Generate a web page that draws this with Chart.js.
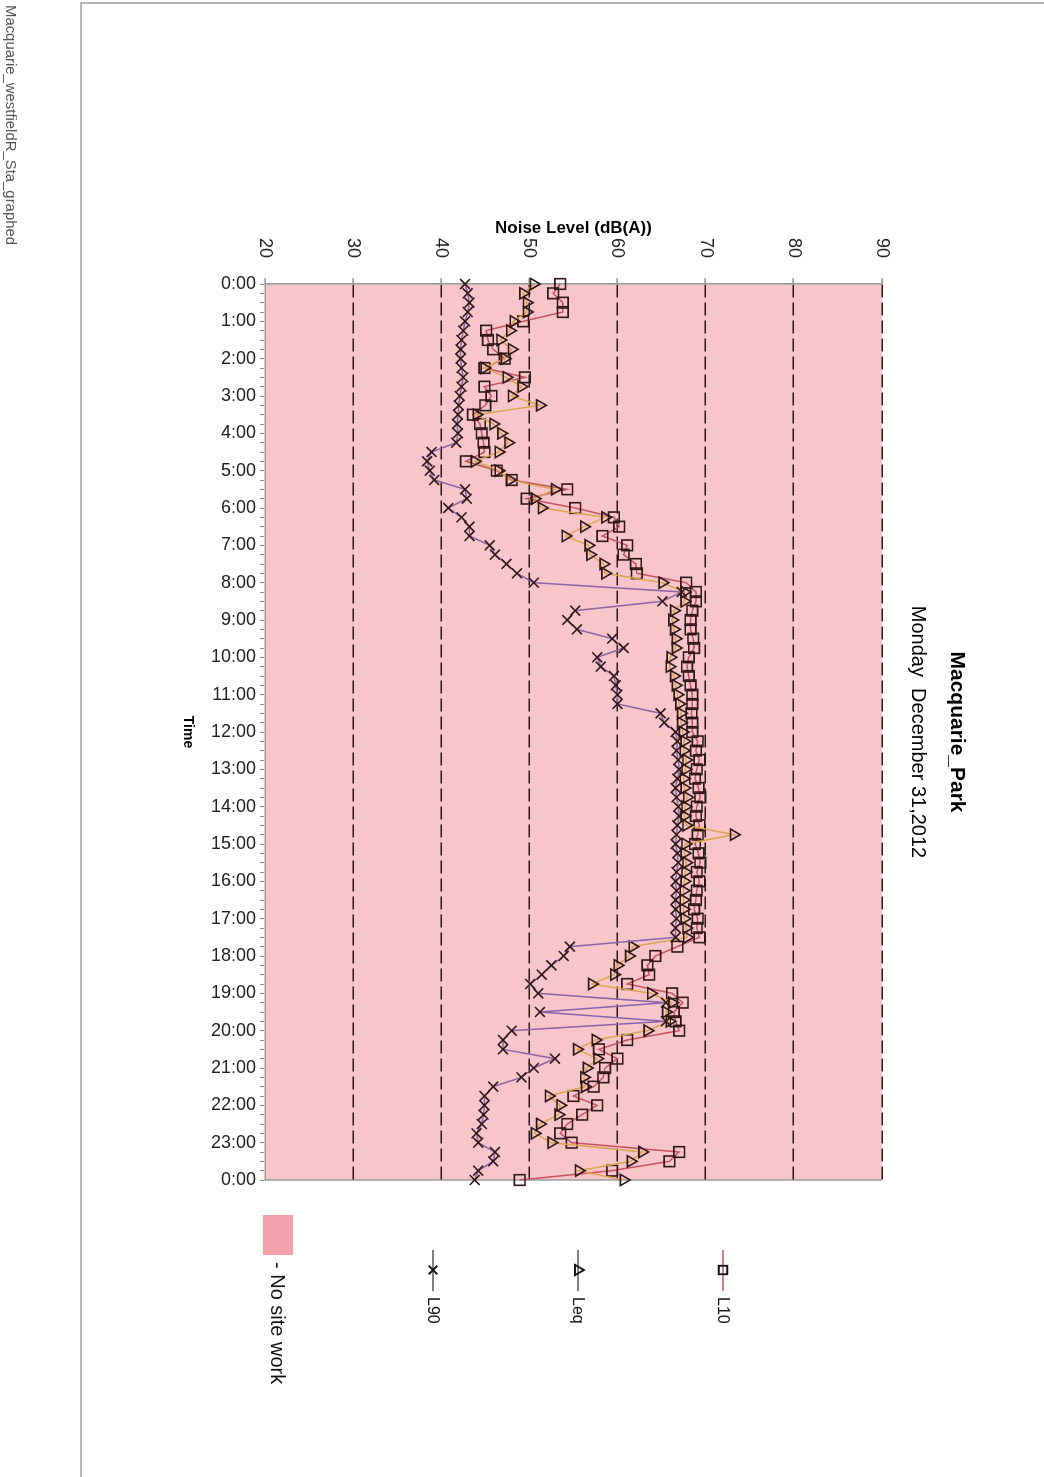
<!DOCTYPE html>
<html lang="en">
<head>
    <meta charset="UTF-8">
    <title>Macquarie_Park noise levels</title>
    <script src="https://cdn.jsdelivr.net/npm/chart.js@4.4.1/dist/chart.umd.min.js"></script>
    <style>
        html, body { margin: 0; padding: 0; background: #fff; overflow: hidden; }
        /* the printed page is landscape, turned a quarter clockwise */
        #page {
            position: absolute; left: 0; top: 0;
            width: 1477px; height: 1044px;
            transform-origin: 0 0;
            transform: translateX(1044px) rotate(90deg);
        }
    </style>
</head>
<body>
    <div id="page"><canvas id="noise" width="1477" height="1044"></canvas></div>

    <script>
        // 15 minute slots, midnight to midnight
        const times = [
            '0:00','0:15','0:30','0:45','1:00','1:15','1:30','1:45',
            '2:00','2:15','2:30','2:45','3:00','3:15','3:30','3:45',
            '4:00','4:15','4:30','4:45','5:00','5:15','5:30','5:45',
            '6:00','6:15','6:30','6:45','7:00','7:15','7:30','7:45',
            '8:00','8:15','8:30','8:45','9:00','9:15','9:30','9:45',
            '10:00','10:15','10:30','10:45','11:00','11:15','11:30','11:45',
            '12:00','12:15','12:30','12:45','13:00','13:15','13:30','13:45',
            '14:00','14:15','14:30','14:45','15:00','15:15','15:30','15:45',
            '16:00','16:15','16:30','16:45','17:00','17:15','17:30','17:45',
            '18:00','18:15','18:30','18:45','19:00','19:15','19:30','19:45',
            '20:00','20:15','20:30','20:45','21:00','21:15','21:30','21:45',
            '22:00','22:15','22:30','22:45','23:00','23:15','23:30','23:45',
            '0:00'
        ];

        const l10 = [
            53.5, 52.7, 53.8, 53.8, 49.3, 45.1, 45.3, 45.9,
            47.2, 44.9, 49.5, 44.9, 45.7, 45.0, 43.6, 44.4,
            44.6, 44.8, 44.9, 42.8, 46.3, 48.0, 54.3, 49.7,
            55.2, 59.6, 60.2, 58.3, 61.1, 60.7, 62.1, 62.2,
            67.8, 68.9, 68.9, 68.5, 68.3, 68.3, 68.6, 68.7,
            68.1, 67.9, 68.1, 68.3, 68.5, 68.5, 68.4, 68.5,
            68.5, 69.1, 68.9, 69.3, 69.0, 68.8, 69.2, 69.4,
            69.0, 68.9, 69.3, 69.1, 68.8, 69.2, 69.4, 69.0,
            69.3, 69.0, 68.9, 68.7, 69.1, 69.0, 69.3, 66.8,
            64.3, 63.4, 63.6, 61.1, 66.2, 67.4, 66.4, 66.6,
            67.0, 61.1, 57.9, 60.0, 58.6, 58.4, 57.3, 55.0,
            57.7, 56.0, 54.3, 53.5, 54.8, 67.0, 65.9, 59.4,
            48.9
        ];

        const leq = [
            50.5, 49.3, 49.7, 49.7, 48.2, 47.8, 46.7, 48.0,
            47.2, 44.9, 47.4, 49.1, 48.0, 51.2, 44.0, 45.9,
            46.8, 47.6, 46.5, 43.8, 46.5, 47.8, 52.9, 50.6,
            51.4, 58.6, 56.2, 54.1, 56.7, 56.9, 58.4, 58.6,
            65.1, 67.6, 67.6, 66.4, 66.2, 66.4, 66.6, 66.6,
            66.0, 65.9, 66.4, 66.6, 66.8, 67.0, 67.2, 67.2,
            67.4, 67.6, 67.5, 67.8, 67.7, 67.5, 67.6, 67.9,
            67.7, 67.6, 67.8, 73.2, 67.7, 67.6, 67.8, 67.7,
            67.6, 67.5, 67.5, 67.5, 67.6, 67.8, 67.9, 61.7,
            61.3, 60.0, 59.6, 57.1, 63.8, 66.2, 65.5, 65.9,
            63.4, 57.5, 55.4, 57.7, 56.5, 56.2, 56.3, 52.2,
            53.5, 53.3, 51.2, 50.6, 52.5, 62.8, 61.5, 55.6,
            60.7
        ];

        const l90 = [
            42.7, 43.0, 43.2, 43.0, 42.7, 42.5, 42.3, 42.2,
            42.2, 42.3, 42.5, 42.3, 42.1, 42.0, 41.9, 41.8,
            41.9, 41.7, 38.9, 38.4, 38.7, 39.2, 42.7, 42.9,
            40.8, 42.3, 43.2, 43.2, 45.5, 46.1, 47.4, 48.6,
            50.5, 67.3, 65.1, 55.2, 54.3, 55.4, 59.4, 60.7,
            57.7, 58.1, 59.6, 59.8, 60.0, 60.0, 64.9, 65.3,
            66.6, 66.8, 66.7, 66.9, 67.0, 66.8, 66.6, 66.7,
            66.9, 67.0, 66.8, 66.7, 66.6, 66.8, 66.9, 66.7,
            66.6, 66.7, 66.6, 66.6, 66.7, 66.6, 66.6, 54.6,
            53.9, 52.5, 51.4, 50.1, 51.0, 65.5, 51.2, 65.5,
            48.0, 47.0, 47.0, 52.9, 50.5, 49.1, 45.9, 44.9,
            44.9, 44.8, 44.6, 44.0, 44.2, 46.1, 45.9, 44.2,
            43.8
        ];

        // slot ranges (index into times) with no site work
        const noSiteWork = [[0, 96]];

        const noiseTicks = [20, 30, 40, 50, 60, 70, 80, 90];

        const markerInk = '#2e1717';
        const noWorkFill = '#f8c5ca';

        function drawMarker(ctx, style, x, y, r) {
            ctx.beginPath();
            if (style === 'rect') {
                const s = r * Math.SQRT1_2;
                ctx.rect(x - s, y - s, 2 * s, 2 * s);
            } else if (style === 'triangle') {
                ctx.moveTo(x, y - r);
                ctx.lineTo(x + r * 0.866, y + r * 0.5);
                ctx.lineTo(x - r * 0.866, y + r * 0.5);
                ctx.closePath();
            } else {
                const s = r * Math.SQRT1_2;
                ctx.moveTo(x - s, y - s); ctx.lineTo(x + s, y + s);
                ctx.moveTo(x + s, y - s); ctx.lineTo(x - s, y + s);
            }
            ctx.stroke();
        }

        const pagePlugin = {
            id: 'page',
            beforeDraw(chart) {
                const { ctx, chartArea: a, scales: { x } } = chart;
                ctx.save();
                // pink band for the no-work period
                ctx.fillStyle = noWorkFill;
                noSiteWork.forEach(([from, to]) => {
                    const x0 = x.getPixelForValue(from);
                    const x1 = x.getPixelForValue(to);
                    ctx.fillRect(x0, a.top, x1 - x0, a.bottom - a.top);
                });
                ctx.strokeStyle = '#9c9c9c';
                ctx.lineWidth = 1.5;
                ctx.beginPath();
                ctx.moveTo(a.right, a.top);
                ctx.lineTo(a.right, a.bottom);
                ctx.stroke();
                // page frame
                ctx.strokeStyle = '#a0a0a0';
                ctx.beginPath();
                ctx.moveTo(3, 0);
                ctx.lineTo(3, 963);
                ctx.lineTo(1477, 963);
                ctx.stroke();
                ctx.restore();
            },
            afterDraw(chart) {
                const { ctx } = chart;
                ctx.save();
                // legend
                const items = [
                    { label: 'L10', style: 'rect', line: '#c9505e', y: 321, r: 6 },
                    { label: 'Leq', style: 'triangle', line: '#555', y: 466, r: 6 },
                    { label: 'L90', style: 'crossRot', line: '#555', y: 611, r: 6 }
                ];
                items.forEach(it => {
                    ctx.strokeStyle = it.line;
                    ctx.lineWidth = 1.5;
                    ctx.beginPath();
                    ctx.moveTo(1250, it.y);
                    ctx.lineTo(1291, it.y);
                    ctx.stroke();
                    ctx.strokeStyle = '#111';
                    ctx.lineWidth = 1.8;
                    drawMarker(ctx, it.style, 1270, it.y, it.r);
                    ctx.fillStyle = '#111';
                    ctx.font = '16px "Liberation Sans", Arial, sans-serif';
                    ctx.textAlign = 'left';
                    ctx.textBaseline = 'middle';
                    ctx.fillText(it.label, 1297, it.y + 1);
                });
                ctx.fillStyle = '#f3a2ac';
                ctx.fillRect(1215, 751, 40, 30);
                ctx.fillStyle = '#111';
                ctx.font = '20px "Liberation Sans", Arial, sans-serif';
                ctx.fillText('- No site work', 1262, 767);
                // file name in the margin
                ctx.fillStyle = '#555';
                ctx.font = '15px "Liberation Sans", Arial, sans-serif';
                ctx.fillText('Macquarie_westfieldR_Sta_graphed', 5, 1034, 240);
                ctx.restore();
            }
        };

        Chart.defaults.font.family = '"Liberation Sans", Arial, sans-serif';
        Chart.defaults.color = '#222';

        new Chart(document.getElementById('noise'), {
            type: 'line',
            data: {
                labels: times,
                datasets: [
                    {
                        label: 'L90', data: l90,
                        borderColor: '#8a62a8', borderWidth: 1.5,
                        pointStyle: 'crossRot', pointRadius: 7,
                        pointBorderColor: markerInk, pointBorderWidth: 1.6,
                        pointBackgroundColor: 'rgba(0,0,0,0)', clip: false
                    },
                    {
                        label: 'Leq', data: leq,
                        borderColor: '#d9a54a', borderWidth: 1.5,
                        pointStyle: 'triangle', pointRadius: 6.5,
                        pointBorderColor: markerInk, pointBorderWidth: 1.6,
                        pointBackgroundColor: 'rgba(0,0,0,0)', clip: false
                    },
                    {
                        label: 'L10', data: l10,
                        borderColor: '#c9505e', borderWidth: 1.5,
                        pointStyle: 'rect', pointRadius: 7.5,
                        pointBorderColor: markerInk, pointBorderWidth: 1.6,
                        pointBackgroundColor: 'rgba(0,0,0,0)', clip: false
                    }
                ]
            },
            options: {
                responsive: false,
                animation: false,
                events: [],
                layout: { padding: { top: 60, left: 212, right: 297, bottom: 165 } },
                plugins: {
                    legend: { display: false },
                    tooltip: { enabled: false },
                    title: {
                        display: true, text: 'Macquarie_Park', fullSize: false,
                        color: '#000', font: { size: 21, weight: 'bold' },
                        padding: { top: 15, bottom: 6 }
                    },
                    subtitle: {
                        display: true, text: 'Monday  December 31,2012', fullSize: false,
                        color: '#000', font: { size: 20 },
                        padding: { top: 8, bottom: 24 }
                    }
                },
                scales: {
                    x: {
                        type: 'category',
                        offset: false,
                        grid: {
                            drawOnChartArea: false, drawTicks: true,
                            tickLength: 5, tickColor: '#8c8c8c', tickWidth: 1
                        },
                        border: { display: true, color: '#9c9c9c', width: 1.5 },
                        ticks: {
                            autoSkip: false, minRotation: 90, maxRotation: 90,
                            padding: 4, color: '#222', font: { size: 18 },
                            callback(v, i) { return times[i].endsWith(':00') ? times[i] : ''; }
                        },
                        title: {
                            display: true, text: 'Time', color: '#000',
                            font: { size: 14, weight: 'bold' },
                            padding: { top: 0, bottom: 14 }
                        },
                        afterFit(s) { s.height = 100; }
                    },
                    y: {
                        min: noiseTicks[0],
                        max: noiseTicks[noiseTicks.length - 1],
                        afterBuildTicks(s) { s.ticks = noiseTicks.map(v => ({ value: v })); },
                        ticks: { padding: 20, color: '#222', font: { size: 18 } },
                        grid: {
                            color: c => (c.tick && c.tick.value === noiseTicks[0]) ? 'rgba(0,0,0,0)' : '#2a1818',
                            lineWidth: 1.6,
                            drawTicks: true, tickLength: 6, tickColor: '#8fa08f'
                        },
                        border: { display: true, color: '#8fa08f', width: 1.5, dash: [13, 5] },
                        title: {
                            display: true, text: 'Noise Level (dB(A))', color: '#000',
                            font: { size: 17, weight: 'bold' },
                            padding: { top: 6, bottom: 0 }
                        },
                        afterFit(s) { s.width = 72; }
                    }
                }
            },
            plugins: [pagePlugin]
        });
    </script>
</body>
</html>
